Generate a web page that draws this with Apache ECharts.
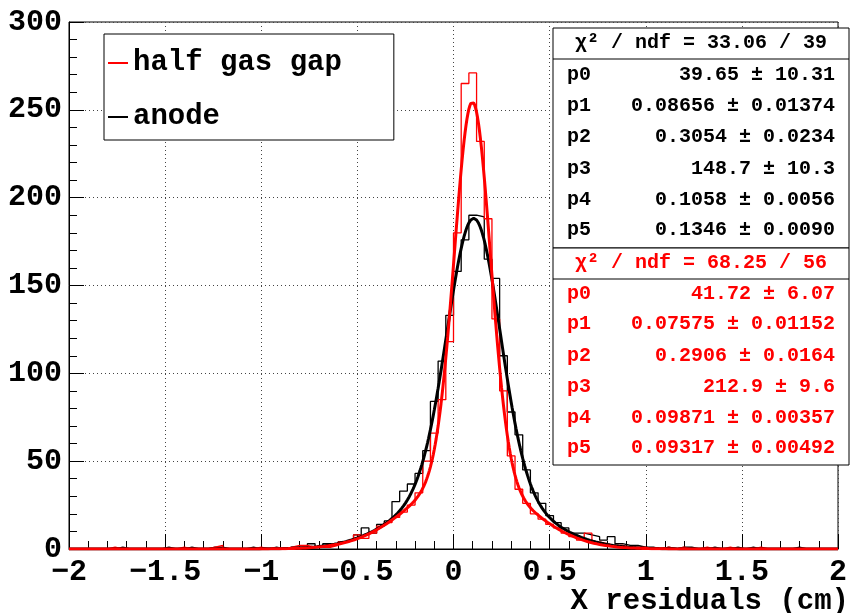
<!DOCTYPE html>
<html><head><meta charset="utf-8">
<script src="https://cdn.jsdelivr.net/npm/echarts@6/dist/echarts.min.js"></script>
<style>html,body{margin:0;padding:0;background:#fff}#c{width:854px;height:613px}</style>
</head><body><div id="c"></div>
<script>
// ---------- data ----------
const xMin = -2, xMax = 2, binWidth = 0.04;
const anodeCounts = [
  0,0,0,0,0,0,1,0,0,0,
  0,0,1,0,0,1,0,0,1,1,
  0,0,0,1,0,0,1,0,1,1,
  1,3,1,3,2,4,5,8,12,9,
  14,16,27,33,37,43,56,84,107,133,
  158,176,190,189,165,154,110,78,65,45,
  32,26,19,15,12,9,9,8,7,5,
  7,3,2,2,1,1,0,1,0,1,
  1,0,0,1,0,0,1,0,1,0,
  0,0,0,0,1,0,0,0,0,0
];
const halfGapCounts = [
  0,0,0,0,0,1,0,0,0,0,
  0,0,0,0,1,0,0,0,1,2,
  0,0,0,0,1,0,0,0,1,2,
  2,1,1,1,2,4,5,8,6,9,
  13,15,18,21,25,32,50,66,85,118,
  180,265,271,232,188,131,90,53,34,26,
  20,17,14,12,9,7,5,9,4,3,
  2,2,1,1,1,0,0,1,0,1,
  0,0,1,0,0,1,0,0,0,1,
  0,0,0,0,0,0,0,0,0,0
];
const xTickValues = [-2,-1.5,-1,-0.5,0,0.5,1,1.5,2];
const xTickLabels = ['\u22122','\u22121.5','\u22121','\u22120.5','0','0.5','1','1.5','2'];
const yTickValues = [0,50,100,150,200,250,300];
const yTickLabels = ['0','50','100','150','200','250','300'];
const xTitle = 'X residuals (cm)';
const seriesNames = ['half gas gap','anode'];
const parNames = ['p0','p1','p2','p3','p4','p5'];
const anodeChi2 = '\u03c7\u00b2 / ndf = 33.06 / 39';
const anodeParVals = ['39.65','0.08656','0.3054','148.7','0.1058','0.1346'];
const anodeParErrs = ['10.31','0.01374','0.0234','10.3','0.0056','0.0090'];
const halfGapChi2 = '\u03c7\u00b2 / ndf = 68.25 / 56';
const halfGapParVals = ['41.72','0.07575','0.2906','212.9','0.09871','0.09317'];
const halfGapParErrs = ['6.07','0.01152','0.0164','9.6','0.00357','0.00492'];

// ---------- helpers ----------
const FONT = "'Liberation Mono','DejaVu Sans Mono',monospace";
function stepPoints(counts){
  const pts = [];
  counts.forEach((v,k)=>{ const a = xMin + k*binWidth; pts.push([a,v],[a+binWidth,v]); });
  return pts;
}
function fitCurve(parStrs){
  const p = parStrs.map(Number);
  const pts = [];
  const n = 800;
  for (let i=0;i<=n;i++){
    const x = xMin + (xMax-xMin)*i/n;
    const y = p[0]*Math.exp(-0.5*Math.pow((x-p[1])/p[2],2)) + p[3]*Math.exp(-0.5*Math.pow((x-p[4])/p[5],2));
    pts.push([x,y]);
  }
  return pts;
}
function statsBox(top, height, chi2, vals, errs, color, rows){
  const els = [];
  els.push({type:'rect', shape:{x:553,y:top,width:296,height:height}, style:{fill:'#fff',stroke:'#000',lineWidth:1}, z:100});
  els.push({type:'line', shape:{x1:553,y1:top+31,x2:849,y2:top+31}, style:{stroke:'#000',lineWidth:1}, z:101});
  els.push({type:'text', x:701, y:top+15, style:{text:chi2, fill:color, font:'bold 20px '+FONT, textAlign:'center', textVerticalAlign:'middle'}, z:102});
  rows.forEach((ry,i)=>{
    els.push({type:'text', x:567, y:ry, style:{text:parNames[i], fill:color, font:'bold 20px '+FONT, textAlign:'left', textVerticalAlign:'middle'}, z:102});
    els.push({type:'text', x:835, y:ry, style:{text:vals[i]+' \u00b1 '+errs[i], fill:color, font:'bold 20px '+FONT, textAlign:'right', textVerticalAlign:'middle'}, z:102});
  });
  return els;
}

const chart = echarts.init(document.getElementById('c'), null, {renderer:'canvas'});
chart.setOption({
  animation:false,
  backgroundColor:'#fff',
  grid:{left:69, right:16, top:22, bottom:64, containLabel:false, outerBoundsMode:'none',
        show:true, borderColor:'#000', borderWidth:1, backgroundColor:'transparent'},
  legend:{
    orient:'vertical', left:104, top:34,
    padding:[14,52,8,4], itemGap:24, itemWidth:20, itemHeight:2,
    borderColor:'#000', borderWidth:1, backgroundColor:'#fff',
    textStyle:{fontFamily:FONT, fontWeight:'bold', fontSize:29, color:'#000', lineHeight:30},
    data:[{name:seriesNames[0], icon:'rect'},{name:seriesNames[1], icon:'rect'}],
    selectedMode:false
  },
  xAxis:{
    type:'value', min:xMin, max:xMax, interval:0.5,
    axisLine:{show:true, onZero:false, lineStyle:{color:'#000', width:1}},
    axisTick:{show:true, inside:true, length:15, lineStyle:{color:'#000'}},
    minorTick:{show:true, splitNumber:5, length:8, lineStyle:{color:'#000'}},
    splitLine:{show:true, lineStyle:{color:'#444', type:[1,3], width:1}},
    axisLabel:{margin:8, fontFamily:FONT, fontWeight:'bold', fontSize:30, color:'#000',
      formatter:v=>{const i=xTickValues.findIndex(t=>Math.abs(t-v)<1e-9); return i>=0?xTickLabels[i]:'';}}
  },
  yAxis:{
    type:'value', min:0, max:300, interval:50,
    axisLine:{show:true, onZero:false, lineStyle:{color:'#000', width:1}},
    axisTick:{show:true, inside:true, length:15, lineStyle:{color:'#000'}},
    minorTick:{show:true, splitNumber:5, length:8, lineStyle:{color:'#000'}},
    splitLine:{show:true, lineStyle:{color:'#444', type:[1,3], width:1}},
    axisLabel:{margin:7, fontFamily:FONT, fontWeight:'bold', fontSize:30, color:'#000',
      formatter:v=>{const i=yTickValues.indexOf(v); return i>=0?yTickLabels[i]:'';}}
  },
  series:[
    {name:seriesNames[1], type:'line', data:stepPoints(anodeCounts), showSymbol:false, symbol:'none',
     lineStyle:{color:'#000', width:1.3}, itemStyle:{color:'#000'}, z:2},
    {name:seriesNames[0], type:'line', data:stepPoints(halfGapCounts), showSymbol:false, symbol:'none',
     lineStyle:{color:'#ff0000', width:1.3}, itemStyle:{color:'#ff0000'}, z:3},
    {name:'anode fit', type:'line', data:fitCurve(anodeParVals), showSymbol:false, symbol:'none',
     lineStyle:{color:'#000', width:3}, z:4},
    {name:'half gas gap fit', type:'line', data:fitCurve(halfGapParVals), showSymbol:false, symbol:'none',
     lineStyle:{color:'#ff0000', width:3}, z:5}
  ],
  graphic:[].concat(
    [{type:'text', right:5, top:587, style:{text:xTitle, fill:'#000', font:'bold 29px '+FONT}, z:102}],
    statsBox(28, 220, anodeChi2, anodeParVals, anodeParErrs, '#000', [75,106,137,169,200,230]),
    statsBox(248, 217, halfGapChi2, halfGapParVals, halfGapParErrs, '#ff0000', [294,324,356,387,418,448])
  )
});
</script>
</body></html>
